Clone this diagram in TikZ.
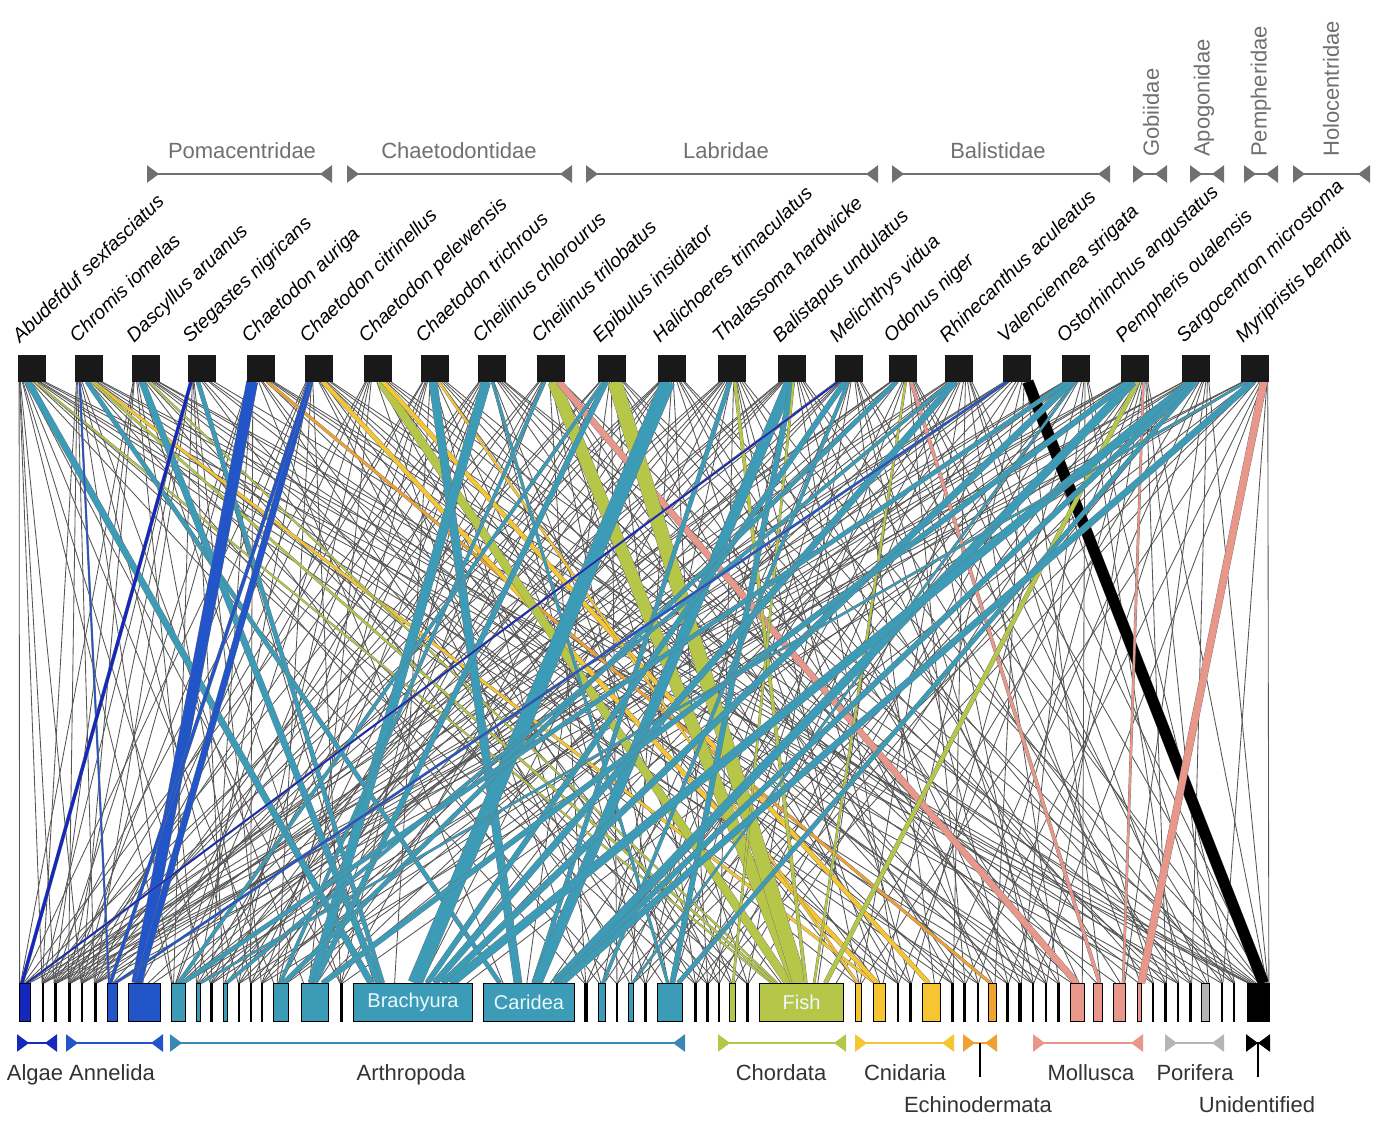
\documentclass[tikz,border=0pt]{standalone}
\usepackage{fontspec}
\setmainfont{Liberation Sans}
\usetikzlibrary{arrows.meta}
\usetikzlibrary{calc}
\pgfdeclarelayer{bglayer}
\pgfdeclarelayer{edgelayer}
\pgfdeclarelayer{nodelayer}
\pgfsetlayers{bglayer,edgelayer,nodelayer,main}
\definecolor{algaeblue}{HTML}{1428BE}
\definecolor{annelblue}{HTML}{2255C8}
\definecolor{arthteal}{HTML}{3C9BB6}
\definecolor{arthblue}{HTML}{3A87B5}
\definecolor{chordgreen}{HTML}{B6C648}
\definecolor{cnidyellow}{HTML}{F5C532}
\definecolor{echinorange}{HTML}{EFA232}
\definecolor{mollsalmon}{HTML}{E8978A}
\definecolor{porigrey}{HTML}{B5B5B5}
\definecolor{famgrey}{HTML}{707070}
\definecolor{edgegrey}{HTML}{555555}
\tikzstyle{predator}=[rectangle,fill=black!90,draw=black!90,minimum width=27pt,minimum height=26pt,inner sep=0pt]
\tikzstyle{prey}=[rectangle,draw=black,line width=1.3pt,minimum height=37.5pt,inner sep=0pt]
\tikzstyle{link}=[draw=edgegrey,line width=0.85pt]
\tikzstyle{band}=[draw=black!55,line width=0.35pt]
\tikzstyle{spname}=[font=\fontsize{19.5}{19.5}\selectfont\itshape,anchor=base west,rotate=44,inner sep=0pt]
\tikzstyle{family}=[font=\fontsize{22}{22}\selectfont,text=famgrey,inner sep=0pt]
\tikzstyle{famrange}=[draw=famgrey,line width=2.5pt,{Triangle[reversed,length=12pt,width=17pt]}-{Triangle[reversed,length=12pt,width=17pt]}]
\tikzstyle{phylum}=[font=\fontsize{22}{22}\selectfont,text=black!80,anchor=base,inner sep=0pt]
\tikzstyle{phylrange}=[line width=2.5pt,{Triangle[reversed,length=12pt,width=17pt]}-{Triangle[reversed,length=12pt,width=17pt]}]
\tikzstyle{boxtext}=[font=\fontsize{20}{20}\selectfont,text=cyan!8]

\begin{document}
\begin{tikzpicture}[x=1pt,y=-1pt]
	\begin{pgfonlayer}{bglayer}
		\fill [white] (0,0) rectangle (1378,1120);
	\end{pgfonlayer}
	\useasboundingbox (0,0) rectangle (1378,1120);
	\begin{pgfonlayer}{nodelayer}
		% fish species
		\foreach \i/\x/\sp in {1/32/Abudefduf sexfasciatus, 2/89/Chromis iomelas, 3/146/Dascyllus aruanus,
			4/202/Stegastes nigricans, 5/261/Chaetodon auriga, 6/319/Chaetodon citrinellus,
			7/378/Chaetodon pelewensis, 8/435/Chaetodon trichrous, 9/492/Cheilinus chlorourus,
			10/551/Cheilinus trilobatus, 11/612/Epibulus insidiator, 12/672/Halichoeres trimaculatus,
			13/732/Thalassoma hardwicke, 14/792/Balistapus undulatus, 15/849/Melichthys vidua,
			16/903/Odonus niger, 17/959/Rhinecanthus aculeatus, 18/1017/Valenciennea strigata,
			19/1076/Ostorhinchus angustatus, 20/1135/Pempheris oualensis, 21/1196/Sargocentron microstoma,
			22/1255/Myripristis berndti}{
			\node [style=predator] (t\i) at (\x,368.5) {};
			\node [style=spname] (s\i) at ([xshift=-12pt,yshift=12pt]t\i.north) {\sp};
		}
		% prey items
		\foreach \i/\l/\r/\c in {1/19/31/algaeblue, 2/42/44/black, 3/54/57/black, 4/68/71/black,
			5/81/83/black, 6/94/97/black, 7/107/118/annelblue, 8/128/161/annelblue,
			9/171/186/arthteal, 10/196/201/arthteal, 11/210/213/black, 12/223/228/arthteal,
			13/238/240/black, 14/250/252/black, 15/261/263/black, 16/273/289/arthteal,
			17/301/329/arthteal, 18/340/343/black, 19/353/473/arthteal, 20/483/575/arthteal,
			21/584/588/black, 22/598/606/arthteal, 23/616/618/black, 24/628/634/arthteal,
			25/644/647/black, 26/657/683/arthteal, 27/694/697/black, 28/706/709/black,
			29/718/720/black, 30/729/736/chordgreen, 31/746/749/black, 32/759/844/chordgreen,
			33/855/862/cnidyellow, 34/873/886/cnidyellow, 35/897/899/black, 36/909/912/black,
			37/922/941/cnidyellow, 38/951/954/black, 39/963/966/black, 40/977/979/black,
			41/988/997/echinorange, 42/1006/1009/black, 43/1018/1022/black, 44/1032/1034/black,
			45/1045/1047/black, 46/1057/1060/black, 47/1070/1085/mollsalmon, 48/1093/1103/mollsalmon,
			49/1113/1126/mollsalmon, 50/1137/1142/mollsalmon, 51/1152/1154/black, 52/1164/1167/black,
			53/1177/1179/black, 54/1189/1192/black, 55/1201/1210/porigrey, 56/1221/1223/black,
			57/1233/1235/black, 58/1247/1270/black}{
			\node [style=prey, fill=\c, minimum width={\r-\l-1.3}] (b\i) at ({(\l+\r)/2},1002.5) {};
		}
		\node [style=boxtext] (n19) at (b19) {Brachyura};
		\node [style=boxtext] (n20) at (b20) {Caridea};
		\node [style=boxtext] (n32) at (b32) {Fish};
	\end{pgfonlayer}
	\begin{pgfonlayer}{edgelayer}
		% grey links
		\foreach \t/\bl in {1/{1,2,3,5,9,11,16,18,21,27,31,35,40,44,52,58},
			2/{2,4,6,9,13,17,23,28,33,38,45,53,58}, 3/{1,3,5,10,14,18,22,29,36,42,47,55,58},
			4/{2,4,6,9,12,15,19,25,31,39,46,56}, 5/{3,5,8,11,14,20,26,30,35,41,49,54,58},
			6/{1,4,7,10,16,18,24,27,32,38,43,51,57}, 7/{2,6,9,13,17,21,28,33,37,44,50,58},
			8/{3,5,9,12,16,19,22,29,34,40,47,53}, 9/{1,4,8,11,15,18,25,30,36,42,48,55,58},
			10/{2,6,10,14,17,21,26,31,35,39,45,52}, 11/{3,5,9,13,16,20,23,27,32,38,44,51,57},
			12/{1,4,7,11,15,18,24,28,34,41,46,54,58}, 13/{2,6,9,12,17,19,22,29,33,36,43,49,56},
			14/{3,5,8,10,14,20,25,30,35,40,47,53,58}, 15/{1,4,9,13,16,21,26,31,37,42,45,52,57},
			16/{2,3,6,11,15,19,23,27,32,39,44,50,55,58}, 17/{1,5,9,12,17,20,24,28,33,38,46,51,54,58},
			18/{2,4,8,10,16,19,22,29,34,41,48,56,58}, 19/{3,6,9,14,17,21,25,30,36,43,47,53,57},
			20/{1,5,7,11,16,20,26,31,35,40,45,52,55,58}, 21/{2,4,9,13,18,23,27,32,37,42,49,54,58},
			22/{3,6,10,15,19,24,28,33,39,44,50,56,58}}{
			\foreach \b in \bl {
				\draw [style=link] let \p1=(t\t.south), \p2=(b\b.north), \p3=(b\b.north east),
					\n1={(\x2-644.5pt)/1251*26}, \n2={(\x1-643.5pt)/1223*1.8*(\x3-\x2)}
					in ({\x1+(\n1)},\y1) -- ({\x2+(\n2)},\y2);
			}
		}
		% main diet links
		\foreach \t/\b/\w/\c in {1/19/6/arthteal, 1/32/1.5/chordgreen, 2/7/1.5/annelblue, 2/20/4/arthteal,
			2/34/2.5/cnidyellow, 2/32/2/chordgreen, 3/19/6/arthteal, 3/32/1.5/chordgreen,
			4/1/3/algaeblue, 4/19/4/arthteal, 5/8/11/annelblue, 5/41/2.5/echinorange,
			6/8/6/annelblue, 6/7/3/annelblue, 6/34/4/cnidyellow, 7/32/8/chordgreen,
			7/37/4/cnidyellow, 8/20/8/arthteal, 8/33/2/cnidyellow, 9/17/9/arthteal,
			9/26/2.5/arthteal, 10/32/12/chordgreen, 10/47/6/mollsalmon, 10/16/3/arthteal,
			11/32/14/chordgreen, 11/17/5/arthteal, 11/9/3/arthteal, 12/19/14/arthteal,
			13/32/3/chordgreen, 13/20/4/arthteal, 14/20/10/arthteal, 14/26/5/arthteal,
			14/30/2/chordgreen, 15/1/1.5/algaeblue, 15/19/5/arthteal, 15/22/3/arthteal,
			16/32/2/chordgreen, 16/48/3/mollsalmon, 16/16/4/arthteal, 17/19/6/arthteal,
			17/12/3/arthteal, 18/58/11/black, 18/7/2/annelblue, 19/19/6/arthteal,
			19/9/4/arthteal, 19/24/2/arthteal, 20/32/4/chordgreen, 20/49/2/mollsalmon,
			20/20/8/arthteal, 20/17/5/arthteal, 21/19/8/arthteal, 21/20/5/arthteal,
			21/26/4/arthteal, 22/50/7/mollsalmon, 22/20/6/arthteal, 22/10/2/arthteal}{
			\draw [style=band, double=\c, double distance=\w pt] let \p1=(t\t.south), \p2=(b\b.north), \p3=(b\b.north east),
				\n1={(\x2-644.5pt)/1251*22}, \n2={(\x1-643.5pt)/1223*1.4*(\x3-\x2)}
				in ({\x1+(\n1)},\y1) -- ({\x2+(\n2)},\y2);
		}
	\end{pgfonlayer}
	% families
	\foreach \l/\r/\fam/\fx [count=\k] in {147/332/Pomacentridae/242, 347/572/Chaetodontidae/459,
		586/878/Labridae/726, 892/1110/Balistidae/998}{
		\draw [style=famrange] (\l,174) -- (\r,174);
		\node [style=family, anchor=base] (fam\k) at (\fx,158) {\fam};
	}
	\foreach \l/\r/\fam/\fx [count=\k] in {1133/1167/Gobiidae/1151, 1190/1224/Apogonidae/1204,
		1244/1278/Pempheridae/1261, 1293/1370/Holocentridae/1331}{
		\draw [style=famrange] (\l,174) -- (\r,174);
		\node [style=family, rotate=90, anchor=west] (vfam\k) at (\fx,157) {\fam};
	}
	% prey groups
	\foreach \l/\r/\c in {17/57/algaeblue, 66/163/annelblue, 170/685/arthblue, 718/846/chordgreen,
		855/954/cnidyellow, 963/997/echinorange, 1033/1143/mollsalmon, 1165/1224/porigrey, 1246/1270/black}{
		\draw [style=phylrange, draw=\c] (\l,1043) -- (\r,1043);
	}
	\draw [line width=2.5pt] (980,1043) -- (980,1077);
	\draw [line width=2.5pt] (1258,1043) -- (1258,1077);
	\foreach \x/\y/\grp [count=\k] in {35/1080/Algae, 112/1080/Annelida, 411/1080/Arthropoda,
		781/1080/Chordata, 905/1080/Cnidaria, 1091/1080/Mollusca, 1195/1080/Porifera,
		978/1112/Echinodermata, 1257/1112/Unidentified}{
		\node [style=phylum] (grp\k) at (\x,\y) {\grp};
	}
\end{tikzpicture}
\end{document}
